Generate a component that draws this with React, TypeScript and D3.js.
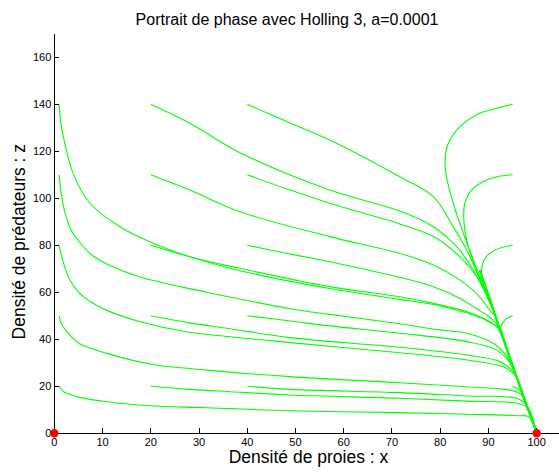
import React from "react";
import * as d3 from "d3";

const W = 559;
const H = 472;

const title = "Portrait de phase avec Holling 3, a=0.0001";
const xLabel = "Densité de proies : x";
const yLabel = "Densité de prédateurs : z";

const xTicks = [0, 10, 20, 30, 40, 50, 60, 70, 80, 90, 100];
const zTicks = [0, 20, 40, 60, 80, 100, 120, 140, 160];

// equilibrium points (x, z)
const equilibria: [number, number][] = [[0, 0], [100, 0]];

// common branch every orbit slides down to reach (100, 0)
const spine: [number, number][] = [
  [88.2, 69.4], [90, 58.8], [91.4, 50.2], [92.4, 44], [94, 34.8],
  [95.8, 24.1], [97.8, 12.6], [99.8, 1.4], [100, 0],
];

// orbits starting near x = 0
const orbitA20: [number, number][] = [[1, 20], [1.6, 18.3], [2.6, 17], [5.3, 15.3], [10.9, 13.4], [19.8, 11.7], [31.6, 10.9], [48.9, 9.6], [71.6, 8.8], [85.5, 8.1], [96, 7.5], [98.3, 7.1], [99.3, 4]];
const orbitA50: [number, number][] = [[1, 50], [1.5, 46.5], [2.6, 43.2], [5.2, 38.2], [10.9, 34], [19.8, 29.5], [31.6, 26.9], [48.9, 24.1], [71.6, 21.5], [85.5, 19.8], [93, 18.8], [95.6, 17.8], [96.8, 16.5]];
const orbitA80: [number, number][] = [[1, 80], [1.5, 75.5], [2.2, 70.5], [3.3, 65], [5.2, 59.6], [7.5, 56], [11, 52.2], [17.8, 47.5], [27.4, 43.2], [36.4, 41.1], [48.9, 38.6], [71.6, 34.3], [85.5, 31.2], [93.1, 28.3], [95.1, 25.5]];
const orbitA110: [number, number][] = [[1, 110], [1.4, 102.5], [2.2, 94], [3.6, 86], [5.2, 81.5], [7.4, 76.5], [10.9, 72], [17.8, 66.5], [31.6, 60], [36.4, 58], [48.9, 53], [57.1, 50.6], [71.6, 46.6], [79.9, 44], [85.5, 42.6], [91, 38.3], [93.8, 32.6]];
const orbitA140: [number, number][] = [[1, 140], [1.3, 133], [1.9, 126], [3.9, 110.6], [7.4, 97.9], [13.6, 87.9], [19.8, 81.5], [28, 75.2], [38.5, 70.2], [57.1, 62.4], [71.6, 58.1], [78.6, 55.3], [85.5, 51.7], [89.6, 48.2]];

// orbits starting at x = 20
const orbitB20: [number, number][] = [[20, 20], [28, 18.7], [36.4, 17.7], [48.9, 16.3], [71.6, 14.9], [85.5, 13.7], [95.8, 12.8], [98.3, 10.6]];
const orbitB50: [number, number][] = [[20, 50], [28, 47], [36.4, 44.5], [48.9, 40.7], [71.6, 36.6], [85.5, 33.3], [92.4, 30.5], [94.8, 26.9]];
const orbitB80: [number, number][] = [[20, 80], [28.1, 75.1], [38.5, 69.2], [57.1, 61.6], [71.6, 57], [78.6, 54.8], [85.5, 51.2], [89.6, 48]];
const orbitB110: [number, number][] = [[20, 110], [28.1, 103.5], [38.5, 94.3], [57.1, 83.7], [71.6, 76.6], [78.6, 71.6], [84.1, 65.2], [88.2, 58.1], [90.6, 51.5]];
const orbitB140: [number, number][] = [[20, 140], [28.1, 131.9], [38.5, 119.4], [57.1, 103.5], [71.6, 94.6], [78.6, 87.9], [83.4, 79.4], [86.9, 69.5], [88.8, 62], [90.4, 55]];

// orbits starting at x = 40
const orbitC20: [number, number][] = [[40, 20], [48.9, 18.7], [71.6, 17.3], [85.5, 15.9], [95.8, 14.9], [97.9, 12]];
const orbitC50: [number, number][] = [[40, 50], [48.9, 47.8], [57.1, 45.7], [71.6, 42.6], [85.5, 39], [91.7, 35.4], [94.5, 29.8]];
const orbitC80: [number, number][] = [[40, 80], [48.9, 76.3], [57.1, 73], [63.4, 70.2], [71.6, 66.4], [78.6, 62.4], [84.1, 57.4], [88.3, 52], [90.8, 48.5]];
const orbitC110: [number, number][] = [[40, 110], [48.9, 103.5], [57.1, 97.9], [71.6, 89.1], [78.6, 83.7], [84.1, 75.1], [87.6, 66.6], [89.5, 59.5], [91, 52.5]];
const orbitC140: [number, number][] = [[40, 140], [48.9, 132], [57.1, 124.8], [71.6, 109.2], [78.6, 100.7], [82.7, 87.9], [85.5, 78], [87.5, 69], [89, 62], [90.6, 54]];

// orbits starting at x = 95
const orbitD20: [number, number][] = [[95, 20], [96, 19], [96.8, 17.5], [97.3, 16]];
const orbitD50: [number, number][] = [[95, 50], [93.4, 48.2], [92.6, 45.5], [92.7, 43.5]];
const orbitD80: [number, number][] = [[95, 80], [91.4, 78], [89.3, 74.5], [88.6, 69.5], [88.8, 65], [89.6, 60]];
const orbitD110: [number, number][] = [[95, 110], [92, 109.3], [89.6, 107.8], [86.5, 103.5], [85.1, 97.9], [84.9, 90.8], [85.5, 82.2], [87.2, 70.9], [88.3, 65], [89.5, 60]];
const orbitD140: [number, number][] = [[95, 140], [91.5, 138.2], [88.2, 136.2], [84.1, 130.5], [81.7, 123.4], [81, 116.3], [81.3, 109.2], [82.7, 97.9], [84.8, 85.1], [86.9, 73.7], [88.2, 67], [89.3, 61.5]];

const orbits = [
  orbitA20, orbitA50, orbitA80, orbitA110, orbitA140,
  orbitB20, orbitB50, orbitB80, orbitB110, orbitB140,
  orbitC20, orbitC50, orbitC80, orbitC110, orbitC140,
  orbitD20, orbitD50, orbitD80, orbitD110, orbitD140,
];

// continue an orbit down the common branch once it has joined it
function withTail(pts: [number, number][]): [number, number][] {
  const lastZ = pts[pts.length - 1][1];
  return pts.concat(spine.filter((p) => p[1] < lastZ - 1));
}

const FONT = "'Liberation Sans', Arial, Helvetica, sans-serif";
const GREEN = "#00ff00";

export default function App() {
  const x = d3.scaleLinear().domain([0, 105]).range([54.3, 560.8]);
  const y = d3.scaleLinear().domain([0, 170]).range([433.3, 33.8]);
  const line = d3
    .line<[number, number]>()
    .x((d) => x(d[0]))
    .y((d) => y(d[1]))
    .curve(d3.curveCatmullRom.alpha(0.5));

  const x0 = x(0);
  const y0 = y(0);

  return (
    <svg
      width={W}
      height={H}
      style={{ position: "absolute", left: 0, top: 0, background: "#fff" }}
      fontFamily={FONT}
    >
      <rect width={W} height={H} fill="#fff" />
      <g fill="none" stroke={GREEN} strokeWidth={1.1}>
        {orbits.map((o, i) => (
          <path key={i} d={line(withTail(o)) || ""} />
        ))}
        <path d={line(spine) || ""} strokeWidth={2.2} />
      </g>

      {/* axes */}
      <g stroke="#000" strokeWidth={1} shapeRendering="crispEdges">
        <line x1={x0} x2={W} y1={y0} y2={y0} />
        <line x1={x0} x2={x0} y1={y0} y2={y(170)} />
        {xTicks.map((t) => (
          <line key={"xt" + t} x1={x(t)} x2={x(t)} y1={y0} y2={y0 - 5} />
        ))}
        {zTicks.map((t) => (
          <line key={"zt" + t} x1={x0} x2={x0 + 5} y1={y(t)} y2={y(t)} />
        ))}
      </g>
      <g fontSize={11} fill="#000">
        {xTicks.map((t) => (
          <text key={"xl" + t} x={x(t)} y={y0 + 13} textAnchor="middle">
            {t}
          </text>
        ))}
        {zTicks.map((t) => (
          <text key={"zl" + t} x={x0 - 3} y={y(t) + 4} textAnchor="end">
            {t}
          </text>
        ))}
      </g>

      {equilibria.map((p, i) => (
        <circle key={"eq" + i} cx={x(p[0])} cy={y(p[1])} r={4.2} fill="#ff0000" />
      ))}

      <text x={287} y={25} textAnchor="middle" fontSize={16} fill="#000">
        {title}
      </text>
      <text x={308.5} y={463} textAnchor="middle" fontSize={17.5} fill="#000">
        {xLabel}
      </text>
      <text
        transform={`translate(25,241.7) rotate(-90)`}
        textAnchor="middle"
        fontSize={17.5}
        fill="#000"
      >
        {yLabel}
      </text>
    </svg>
  );
}
